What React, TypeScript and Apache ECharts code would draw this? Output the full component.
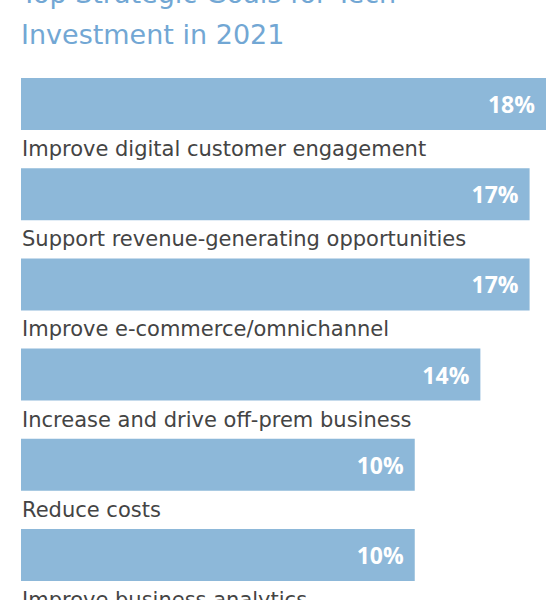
import { useEffect, useRef } from "react";
import * as echarts from "echarts";

const goals = [
  "Improve digital customer engagement",
  "Support revenue-generating opportunities",
  "Improve e-commerce/omnichannel",
  "Increase and drive off-prem business",
  "Reduce costs",
  "Improve business analytics",
];
const shares = [18, 17, 17, 14, 10, 10];

const TITLE = "Top Strategic Goals for Tech\nInvestment in 2021";

// the original chart does not start its bars at zero
const AXIS_MIN = -14;
const AXIS_MAX = 18;
const BAR_HEIGHT = 52;
const BAR_COLOR = "#8db8d9";
const FONT = "'DejaVu Sans', 'Noto Sans', sans-serif";
const VALUE_FONT = "'Open Sans', 'Noto Sans', sans-serif";

export default function App() {
  const ref = useRef<HTMLDivElement | null>(null);

  useEffect(() => {
    if (!ref.current) return;
    const chart = echarts.init(ref.current, undefined, { renderer: "svg" });

    chart.setOption({
      animation: false,
      title: {
        text: TITLE,
        left: 21,
        top: -27,
        padding: 0,
        textStyle: {
          fontFamily: FONT,
          fontSize: 27,
          fontWeight: "normal",
          color: "#72a7d4",
          lineHeight: 41,
        },
      },
      grid: { left: 21, top: 59, width: 525, height: 548 },
      xAxis: { type: "value", min: AXIS_MIN, max: AXIS_MAX, show: false },
      yAxis: { type: "category", data: goals, inverse: true, show: false },
      series: [
        {
          type: "custom",
          encode: { x: 0, y: 1 },
          data: shares.map((v, i) => [v, i]),
          renderItem: (params: any, api: any) => {
            const v = api.value(0);
            const idx = api.value(1);
            const start = api.coord([AXIS_MIN, idx]);
            const end = api.coord([v, idx]);
            const top = start[1] - BAR_HEIGHT / 2;
            return {
              type: "group",
              children: [
                {
                  type: "rect",
                  shape: { x: start[0], y: top, width: end[0] - start[0], height: BAR_HEIGHT },
                  style: { fill: BAR_COLOR },
                },
                {
                  type: "text",
                  x: end[0] - 11,
                  y: start[1],
                  style: {
                    text: `${v}%`,
                    fill: "#ffffff",
                    font: `bold 23px ${VALUE_FONT}`,
                    align: "right",
                    verticalAlign: "middle",
                  },
                },
                {
                  type: "text",
                  x: start[0] + 1,
                  y: top + BAR_HEIGHT + 19,
                  style: {
                    text: goals[params.dataIndex],
                    fill: "#444444",
                    font: `21px ${FONT}`,
                    align: "left",
                    verticalAlign: "middle",
                  },
                },
              ],
            };
          },
        },
      ],
    });

    return () => chart.dispose();
  }, []);

  return (
    <div
      ref={ref}
      style={{ position: "absolute", left: 0, top: 0, width: 551, height: 600 }}
    />
  );
}
